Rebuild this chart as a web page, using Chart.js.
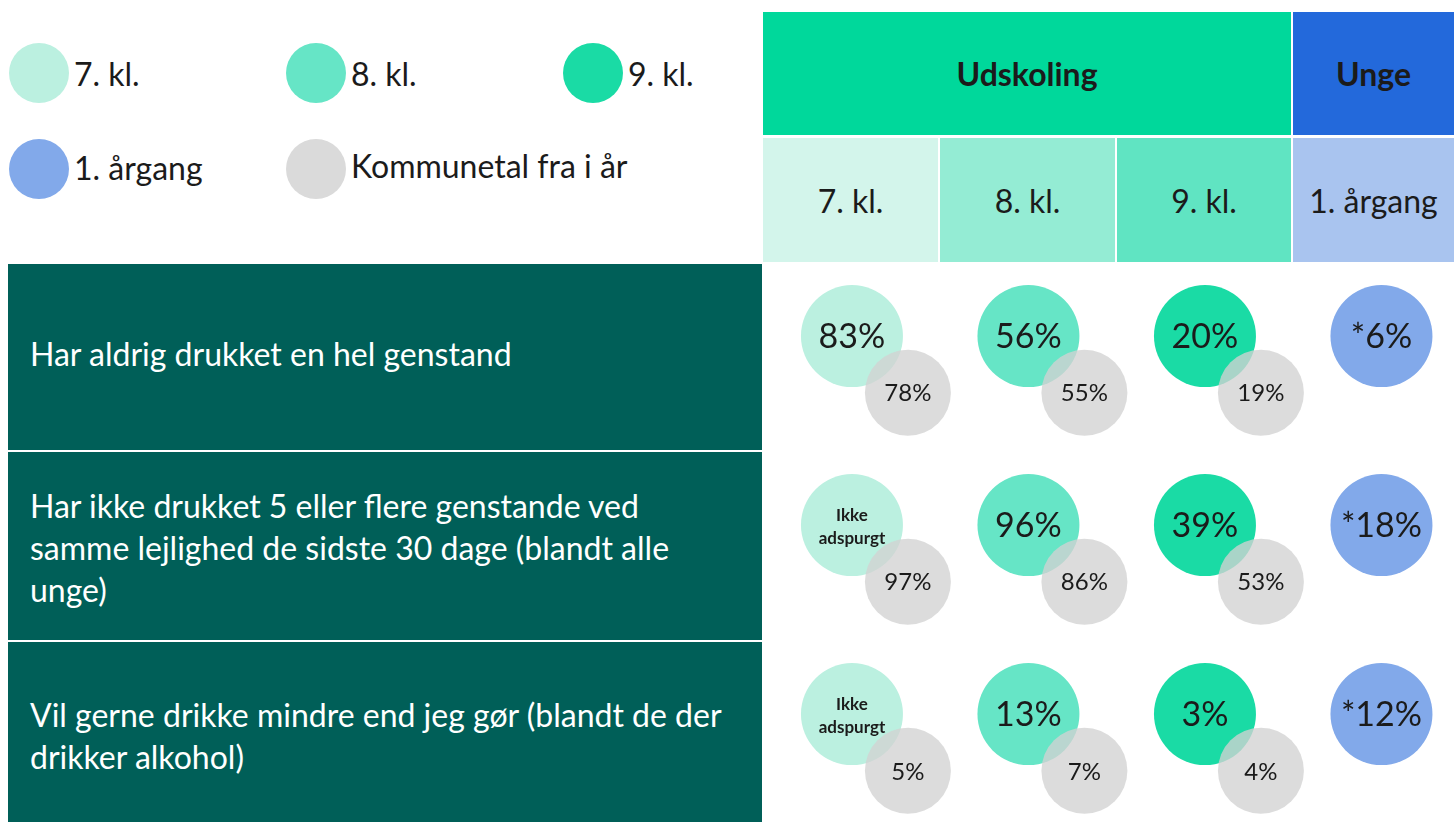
<!DOCTYPE html>
<html lang="da">
<head>
<meta charset="utf-8">
<title>Alkohol - Udskoling og Unge</title>
<script src="https://cdn.jsdelivr.net/npm/chart.js@4.4.1/dist/chart.umd.min.js"></script>
<style>
    html, body {
        margin: 0;
        padding: 0;
        width: 1454px;
        height: 822px;
        overflow: hidden;
        background: #fff;
        font-family: Lato, "Open Sans", sans-serif;
        color: #1b1b1b;
    }
    .legend-item {
        position: absolute;
        display: flex;
        align-items: center;
        font-size: 32px;
        white-space: nowrap;
    }
    .legend-dot {
        width: 60px;
        height: 60px;
        border-radius: 50%;
        margin-right: 5px;
        flex: none;
    }
    .cell {
        position: absolute;
        display: flex;
        align-items: center;
        justify-content: center;
        font-size: 32px;
    }
    .cell.head { font-weight: 700; }
    .question {
        position: absolute;
        left: 8px;
        width: 754px;
        box-sizing: border-box;
        padding-left: 22px;
        background: #005f58;
        color: #fff;
        font-size: 32px;
        line-height: 42px;
        display: flex;
        align-items: center;
        white-space: nowrap;
    }
    /* the bubble chart keeps a margin of one bubble radius, so the canvas
       reaches out past the white area by that much on every side */
    #chart-wrap {
        position: absolute;
        left: 712px;
        top: 213px;
        width: 793px;
        height: 660px;
    }
</style>
</head>
<body>
<div id="legend"></div>
<div id="header"></div>
<div id="questions"></div>
<div id="chart-wrap"><canvas id="bubbleChart"></canvas></div>

<script>
// Groups (columns) and questions (rows)
const groups = ['7. kl.', '8. kl.', '9. kl.', '1. årgang'];
const questions = [
    ['Har aldrig drukket en hel genstand'],
    ['Har ikke drukket 5 eller flere genstande ved', 'samme lejlighed de sidste 30 dage (blandt alle', 'unge)'],
    ['Vil gerne drikke mindre end jeg gør (blandt de der', 'drikker alkohol)']
];

// This year's values per question, one per group (null = ikke adspurgt)
const groupValues = [
    [83, 56, 20, 6],
    [null, 96, 39, 18],
    [null, 13, 3, 12]
];

// Kommunetal fra i år (only for udskoling)
const kommuneValues = [
    [78, 55, 19],
    [97, 86, 53],
    [5, 7, 4]
];

// 1. årgang numbers are marked with *
const starredGroups = ['1. årgang'];
const kommuneLabel = 'Kommunetal fra i år';

// Colours
const groupColors = ['#bbf0e0', '#66e5c6', '#1adba5', '#82a9ea'];
const headColors = ['#d3f5eb', '#94ecd4', '#60e4c2', '#a9c4ef'];
const kommuneColor = 'rgba(210, 210, 210, 0.78)';

// Legend
const legendSpots = [[9, 43], [286, 43], [563, 43], [9, 139], [286, 139]];
const legendEntries = groups.map((g, i) => [g, groupColors[i]]).concat([[kommuneLabel, '#dadada']]);
const legendEl = document.getElementById('legend');
legendEntries.forEach(([label, color], i) => {
    const item = document.createElement('div');
    item.className = 'legend-item';
    item.style.left = legendSpots[i][0] + 'px';
    item.style.top = legendSpots[i][1] + 'px';
    item.innerHTML = `<span class="legend-dot" style="background:${color}"></span><span style="margin-top:${i === 4 ? -8 : (i === 3 ? -3 : 0)}px">${label}</span>`;
    legendEl.appendChild(item);
});

// Header cells
const headerEl = document.getElementById('header');
function addCell(text, left, top, width, height, bg, bold) {
    const c = document.createElement('div');
    c.className = 'cell' + (bold ? ' head' : '');
    c.style.cssText += `left:${left}px;top:${top}px;width:${width}px;height:${height}px;background:${bg};`;
    c.textContent = text;
    headerEl.appendChild(c);
}
addCell('Udskoling', 763, 12, 528, 123, '#00d89b', true);
addCell('Unge', 1293, 12, 161, 123, '#2369db', true);
const subLefts = [763, 940, 1117, 1293];
const subWidths = [175, 175, 174, 161];
groups.forEach((g, i) => addCell(g, subLefts[i], 138, subWidths[i], 124, headColors[i], false));

// Question rows
const rowTops = [264, 452, 642];
const rowHeights = [186, 188, 180];
const rowNudge = [-6, 4, 8];
const questionsEl = document.getElementById('questions');
questions.forEach((lines, i) => {
    const q = document.createElement('div');
    q.className = 'question';
    q.style.top = rowTops[i] + 'px';
    q.style.height = rowHeights[i] + 'px';
    q.innerHTML = `<div style="margin-top:${rowNudge[i]}px">` + lines.join('<br>') + '</div>';
    questionsEl.appendChild(q);
});

// Labels drawn inside the bubbles
const bubbleLabels = {
    id: 'bubbleLabels',
    afterDatasetsDraw(chart) {
        const ctx = chart.ctx;
        ctx.save();
        ctx.textAlign = 'center';
        ctx.textBaseline = 'middle';
        ctx.fillStyle = '#1b1b1b';
        chart.data.datasets.forEach((ds, i) => {
            const meta = chart.getDatasetMeta(i);
            meta.data.forEach((el, j) => {
                const raw = ds.data[j];
                if (raw.text === null) {
                    ctx.font = 'bold 17px Lato, sans-serif';
                    ctx.fillText('Ikke', el.x, el.y - 10);
                    ctx.fillText('adspurgt', el.x, el.y + 13);
                } else {
                    ctx.font = (ds.kommune ? '24px' : '34px') + ' Lato, sans-serif';
                    ctx.fillText(raw.text, el.x, el.y + 1);
                }
            });
        });
        ctx.restore();
    }
};

// Build datasets
const kommuneShift = { x: 0.317, y: 0.30 };
const datasets = [];

datasets.push({
    label: kommuneLabel,
    kommune: true,
    order: 0,
    radius: 43,
    backgroundColor: kommuneColor,
    borderWidth: 0,
    data: kommuneValues.flatMap((row, r) => row.map((v, c) => ({
        x: c + kommuneShift.x,
        y: r + kommuneShift.y,
        text: v + '%'
    })))
});

groups.forEach((g, c) => {
    const star = starredGroups.includes(g) ? '*' : '';
    datasets.push({
        label: g,
        order: 1,
        radius: 51,
        backgroundColor: groupColors[c],
        borderWidth: 0,
        data: groupValues.map((row, r) => ({
            x: c,
            y: r,
            text: row[c] === null ? null : star + row[c] + '%'
        }))
    });
});

const bubbleChart = new Chart(document.getElementById('bubbleChart').getContext('2d'), {
    type: 'bubble',
    data: { datasets: datasets },
    options: {
        responsive: true,
        maintainAspectRatio: false,
        animation: false,
        layout: { padding: 0 },
        scales: {
            x: { type: 'linear', min: -0.504, max: 3.411, display: false },
            y: { type: 'linear', min: -0.381, max: 2.571, reverse: true, display: false }
        },
        plugins: {
            legend: { display: false },
            tooltip: { enabled: false }
        },
        elements: { point: { hoverRadius: 0 } }
    },
    plugins: [bubbleLabels]
});
</script>
</body>
</html>
